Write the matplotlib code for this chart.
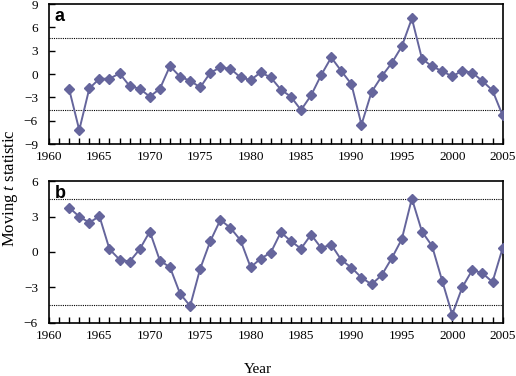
import matplotlib
matplotlib.use("Agg")
import matplotlib.pyplot as plt
import numpy as np

years = np.arange(1962, 2006)

# panel a
t_a = [-1.97, -7.2, -1.84, -0.6, -0.6, 0.09, -1.54, -1.89, -2.9, -1.89,
       1.03, -0.34, -0.86, -1.71, 0.17, 0.86, 0.69, -0.43, -0.77, 0.21,
       -0.43, -2.0, -2.91, -4.63, -2.74, -0.13, 2.14, 0.39, -1.29, -6.51,
       -2.31, -0.30, 1.41, 3.56, 7.16, 1.97, 0.99, 0.39, -0.30, 0.43,
       0.17, -0.90, -2.10, -5.31]
crit_a = 4.6

# panel b
t_b = [3.76, 3.0, 2.49, 3.03, 0.23, -0.65, -0.82, 0.23, 1.73, -0.74,
       -1.30, -3.54, -4.59, -1.42, 0.91, 2.72, 2.04, 0.99, -1.30, -0.57,
       -0.06, 1.67, 0.91, 0.28, 1.47, 0.34, 0.62, -0.68, -1.33, -2.18,
       -2.75, -1.98, -0.54, 1.08, 4.53, 1.73, 0.51, -2.43, -5.32, -3.0,
       -1.53, -1.81, -2.55, 0.31]
crit_b = 4.47

col = "#65659c"
serif = "Liberation Serif"
plt.rcParams["mathtext.fontset"] = "custom"
plt.rcParams["mathtext.it"] = "Liberation Serif:italic"
plt.rcParams["mathtext.rm"] = "Liberation Serif"

fig = plt.figure(figsize=(5.16, 3.76), dpi=100)
ax1 = fig.add_axes([0.095, 0.617, 0.879, 0.372])
ax2 = fig.add_axes([0.095, 0.142, 0.879, 0.376])

panels = [(ax1, t_a, crit_a, 9, "a"), (ax2, t_b, crit_b, 6, "b")]
for ax, vals, crit, lim, lab in panels:
    ax.plot(years, vals, color=col, lw=1.4, marker="D", ms=4.8,
            mfc=col, mec=col, zorder=3)
    ax.axhline(crit, color="black", lw=0.8, ls=(0, (1, 1)), zorder=2)
    ax.axhline(-crit, color="black", lw=0.8, ls=(0, (1, 1)), zorder=2)
    ax.set_xlim(1960, 2005)
    ax.set_ylim(-lim, lim)
    ax.set_yticks(np.arange(-lim, lim + 1, 3))
    ax.set_xticks(np.arange(1960, 2006, 5))
    ax.set_xticks(np.arange(1960, 2006, 1), minor=True)
    ax.tick_params(which="both", direction="in", length=4, width=1,
                   labelsize=9.5)
    ax.tick_params(axis="y", pad=8)
    ax.tick_params(axis="x", pad=5)
    for lbl in ax.get_xticklabels() + ax.get_yticklabels():
        lbl.set_fontfamily(serif)
    for sp in ax.spines.values():
        sp.set_linewidth(1.2)
    ax.text(0.012, 0.97, lab, transform=ax.transAxes, ha="left", va="top",
            fontsize=13, fontweight="bold", family="Liberation Sans")

fig.text(0.5, 0.018, "Year", ha="center", va="center", fontsize=11,
         family=serif)
fig.text(0.02, 0.5, "Moving $\\it{t}$ statistic", rotation=90, ha="center",
         va="center", fontsize=12, family=serif)

fig.savefig("out.png", dpi=100)
